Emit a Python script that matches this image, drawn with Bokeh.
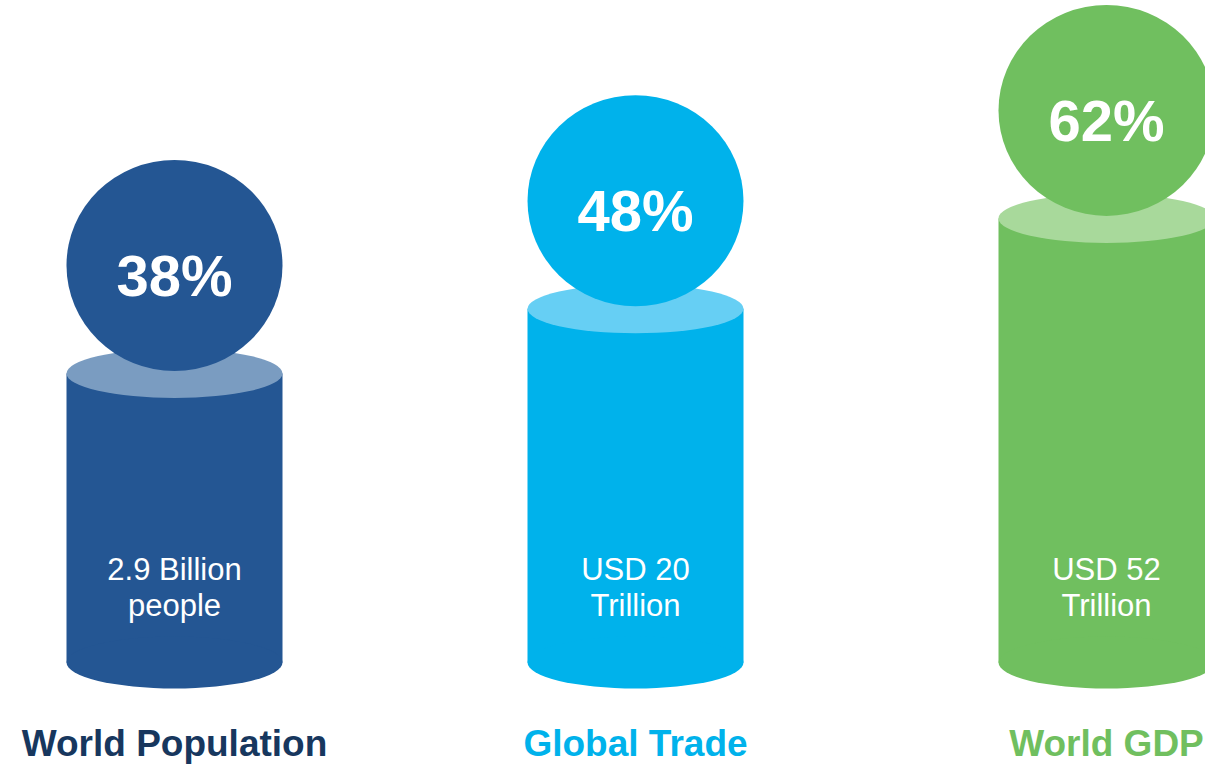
from bokeh.plotting import figure
from bokeh.models import Range1d, ColumnDataSource
from bokeh.core.properties import value
from bokeh.embed import file_html
from bokeh.resources import INLINE

# ---- data ----
categories = ["World Population", "Global Trade", "World GDP"]
shares = [38, 48, 62]                      # percent
detail_line1 = ["2.9 Billion", "USD 20", "USD 52"]
detail_line2 = ["people", "Trillion", "Trillion"]

# ---- styles / layout ----
main_colors = ["#245693", "#00b2eb", "#70bf5f"]
light_colors = ["#7a9cc1", "#66cff4", "#a8d99b"]
label_colors = ["#17375e", "#00b2eb", "#70bf5f"]
centers = [174, 635, 1106]
W, H = 1205, 765
FONT = "Liberation Sans"

def py(screen_y):
    return H - screen_y

base = py(662)                 # centre of bottom ellipse
def scale(pct):                # cylinder height scale (px per percent)
    return 6.46 * pct + 43.6

cyl_w = 216
tops = [base + scale(s) for s in shares]

src = ColumnDataSource(dict(
    x=centers,
    left=[c - cyl_w / 2 for c in centers],
    right=[c + cyl_w / 2 for c in centers],
    bottom=[base] * 3,
    top=tops,
    circ_y=[t + 108 for t in tops],
    pct_y=[t + 98 for t in tops],
    pct=[f"{s}%" for s in shares],
    d1=detail_line1,
    d2=detail_line2,
    d1_y=[py(569)] * 3,
    d2_y=[py(605)] * 3,
    cat=categories,
    cat_y=[py(743)] * 3,
    main=main_colors,
    light=light_colors,
    lab=label_colors,
))

p = figure(width=W, height=H, output_backend="svg", toolbar_location=None,
           x_range=Range1d(0, W), y_range=Range1d(0, H),
           min_border=0, outline_line_color=None, background_fill_color="white")
p.xaxis.visible = False
p.yaxis.visible = False
p.grid.visible = False

# body
p.quad(left="left", right="right", bottom="bottom", top="top", source=src,
       fill_color="main", line_color=None)
# bottom ellipse
p.ellipse(x="x", y="bottom", width=cyl_w, height=52, source=src,
          fill_color="main", line_color=None)
# top ellipse
p.ellipse(x="x", y="top", width=cyl_w, height=49, source=src,
          fill_color="light", line_color=None)
# circle badge
p.ellipse(x="x", y="circ_y", width=cyl_w, height=211, source=src,
          fill_color="main", line_color=None)

# percent text
p.text(x="x", y="pct_y", text="pct", source=src, text_color="white",
       text_font=value(FONT), text_font_style="bold", text_font_size="58px",
       text_align="center", text_baseline="middle")
# details
p.text(x="x", y="d1_y", text="d1", source=src, text_color="white",
       text_font=value(FONT), text_font_size="31px",
       text_align="center", text_baseline="middle")
p.text(x="x", y="d2_y", text="d2", source=src, text_color="white",
       text_font=value(FONT), text_font_size="31px",
       text_align="center", text_baseline="middle")
# category labels
p.text(x="x", y="cat_y", text="cat", source=src, text_color="lab",
       text_font=value(FONT), text_font_style="bold", text_font_size="37px",
       text_align="center", text_baseline="middle")

open("out.html", "w").write(file_html(p, INLINE))
